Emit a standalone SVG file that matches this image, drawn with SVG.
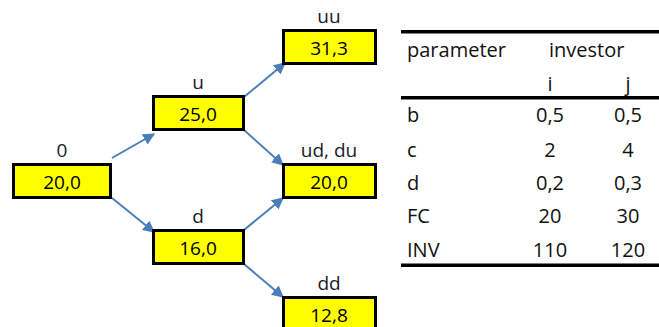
<svg xmlns="http://www.w3.org/2000/svg" width="659" height="327" viewBox="0 0 659 327">
<style>
.box{fill:#ffff00;stroke:#000;stroke-width:3}
.lbl{font-family:"Open Sans","DejaVu Sans",sans-serif;font-size:19px;fill:#1a1a2a;text-anchor:middle}
.val{font-family:"Open Sans","DejaVu Sans",sans-serif;font-size:19px;fill:#000;text-anchor:middle}
.t{font-family:"Open Sans","DejaVu Sans",sans-serif;font-size:20px;fill:#111}
.c{text-anchor:middle}
.con{stroke:#4a7ebb;stroke-width:2;fill:none;marker-end:url(#ah)}
.rule{fill:#000}
</style>
<defs>
<marker id="ah" viewBox="0 0 10 10" refX="9" refY="5" markerWidth="6" markerHeight="6" orient="auto" markerUnits="strokeWidth">
<path d="M0,0 L10,5 L0,10 z" fill="#4a7ebb"/>
</marker>
</defs>
<g id="connectors">
<line class="con" x1="112" y1="158" x2="154" y2="134"/>
<line class="con" x1="112" y1="198" x2="154" y2="232"/>
<line class="con" x1="244" y1="97" x2="285" y2="63"/>
<line class="con" x1="244" y1="130" x2="283" y2="165"/>
<line class="con" x1="244" y1="230" x2="283" y2="198"/>
<line class="con" x1="244" y1="264" x2="283" y2="297"/>
</g>
<g id="node-0">
<text class="lbl" x="62" y="157">0</text>
<rect class="box" x="13.5" y="164.5" width="97" height="33"/>
<text class="val" x="62" y="189">20,0</text>
</g>
<g id="node-u">
<text class="lbl" x="198" y="89">u</text>
<rect class="box" x="153.5" y="96.5" width="90" height="33"/>
<text class="val" x="198" y="121">25,0</text>
</g>
<g id="node-d">
<text class="lbl" x="198" y="223">d</text>
<rect class="box" x="153.5" y="230.5" width="90" height="33"/>
<text class="val" x="198" y="255">16,0</text>
</g>
<g id="node-uu">
<text class="lbl" x="329" y="23">uu</text>
<rect class="box" x="283.5" y="30.5" width="92" height="33"/>
<text class="val" x="329" y="55">31,3</text>
</g>
<g id="node-ud">
<text class="lbl" x="329" y="157">ud, du</text>
<rect class="box" x="283.5" y="164.5" width="92" height="33"/>
<text class="val" x="329" y="189">20,0</text>
</g>
<g id="node-dd">
<text class="lbl" x="329" y="290">dd</text>
<rect class="box" x="283.5" y="297.5" width="92" height="33"/>
<text class="val" x="329" y="322">12,8</text>
</g>
<g id="table">
<rect class="rule" x="401" y="30" width="258" height="3.5"/>
<rect class="rule" x="401" y="96" width="258" height="3.5"/>
<rect class="rule" x="401" y="263.5" width="258" height="3.5"/>
<text class="t" x="407" y="57">parameter</text>
<text class="t" x="549" y="57">investor</text>
<text class="t c" x="550" y="91">i</text>
<text class="t c" x="628" y="91">j</text>
<text class="t" x="407" y="122">b</text>
<text class="t c" x="550" y="122">0,5</text>
<text class="t c" x="628" y="122">0,5</text>
<text class="t" x="407" y="157">c</text>
<text class="t c" x="550" y="157">2</text>
<text class="t c" x="628" y="157">4</text>
<text class="t" x="407" y="190">d</text>
<text class="t c" x="550" y="190">0,2</text>
<text class="t c" x="628" y="190">0,3</text>
<text class="t" x="407" y="223">FC</text>
<text class="t c" x="550" y="223">20</text>
<text class="t c" x="628" y="223">30</text>
<text class="t" x="407" y="257">INV</text>
<text class="t c" x="550" y="257">110</text>
<text class="t c" x="628" y="257">120</text>
</g>
</svg>
